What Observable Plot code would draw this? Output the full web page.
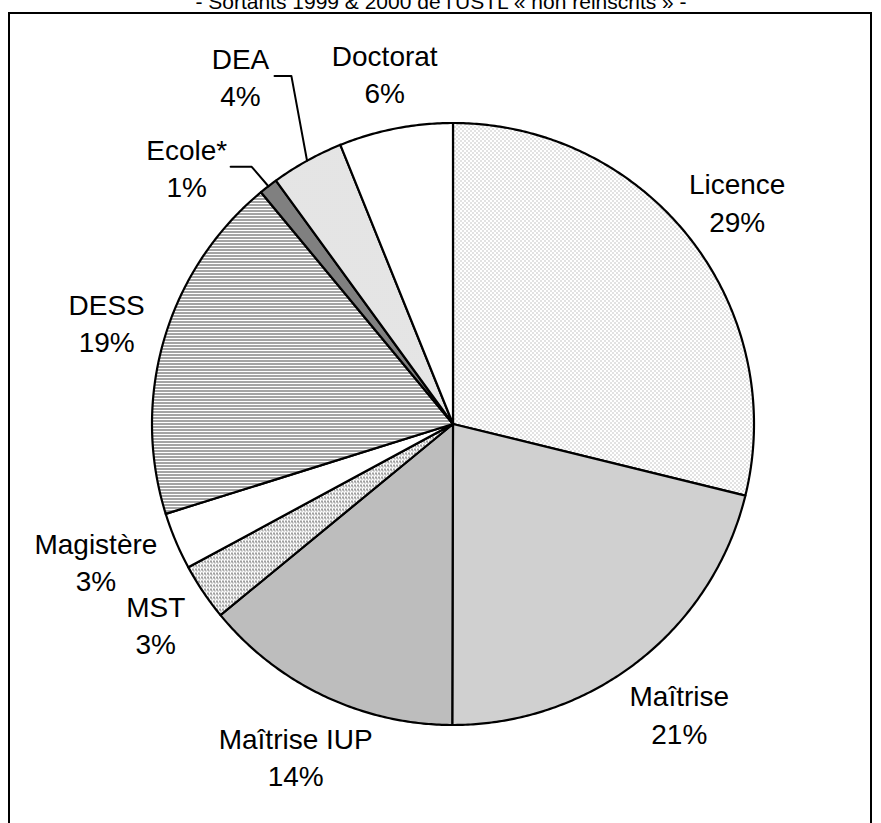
<!DOCTYPE html>
<html><head><meta charset="utf-8">
<script src="https://cdn.jsdelivr.net/npm/d3@7"></script>
<script src="https://cdn.jsdelivr.net/npm/@observablehq/plot@0.6"></script>
<style>
body{margin:0;background:#fff;}
#wrap{position:relative;width:881px;height:823px;overflow:hidden;}
#chart{position:absolute;left:0;top:0;}
#box{position:absolute;left:8px;top:12px;width:860px;height:900px;border:2px solid #000;pointer-events:none;}
#title{position:absolute;left:0;top:-9px;width:882px;text-align:center;font:21px/21px "Liberation Sans",Arial,sans-serif;color:#000;white-space:nowrap;}
</style></head>
<body><div id="wrap"><div id="chart"></div><div id="box"></div><div id="title">- Sortants 1999 &amp; 2000 de l'USTL « non réinscrits » -</div></div>
<script>
// Data (clockwise from 12 o'clock)
const categories = ["Licence","Maîtrise","Maîtrise IUP","MST","Magistère","DESS","Ecole*","DEA","Doctorat"];
const shares = [28.8, 21.2, 14.0, 3.05, 3.07, 18.8, 1.0, 3.9, 6.1];

// Styles
const patternIds = ["pLic","pMai","pIUP","pMST","pWhite","pDESS","pEcole","pDEA","pWhite"];
// Label layout (radius factor, optional angle override in degrees)
const labelRadius = [1.2, 1.22, 1.22, 1.19, 1.27, 1.2, 1.23, 1.355, 1.19];
const labelAngle = [null, null, null, null, 249.1, null, 314, 328.6, null];
const leaderCats = ["Ecole*","DEA"];
const leaderOffsets = [[0.146, 0.216],[0.113, 0.169]];

const W = 881, H = 823, cx = 452.5, cy = 423.5, R = 301;
const total = d3.sum(shares);
let cum = 0;
const slices = categories.map((c, i) => {
  const a0 = cum / total * 2 * Math.PI; cum += shares[i];
  const a1 = cum / total * 2 * Math.PI;
  const pts = [{x: 0, y: 0}];
  const n = Math.max(2, Math.ceil((a1 - a0) / (Math.PI / 360)));
  for (let k = 0; k <= n; k++) {
    const a = a0 + (a1 - a0) * k / n;
    pts.push({x: Math.sin(a), y: Math.cos(a)});
  }
  pts.push({x: 0, y: 0});
  const mid = (a0 + a1) / 2;
  const la = labelAngle[i] != null ? labelAngle[i] * Math.PI / 180 : mid;
  const lr = labelRadius[i];
  return {cat: c, pts, mid, lx: lr * Math.sin(la), ly: lr * Math.cos(la),
          text: c + "\n" + Math.round(shares[i] / total * 100) + "%"};
});

const leaders = leaderCats.map((c, j) => {
  const s = slices.find(d => d.cat === c);
  return [
    {x: s.lx + leaderOffsets[j][0], y: s.ly},
    {x: s.lx + leaderOffsets[j][1], y: s.ly},
    {x: Math.sin(s.mid), y: Math.cos(s.mid)}
  ];
});

const plot = Plot.plot({
  width: W, height: H,
  marginTop: 0, marginRight: 0, marginBottom: 0, marginLeft: 0,
  x: {domain: [-cx / R, (W - cx) / R], axis: null},
  y: {domain: [-(H - cy) / R, cy / R], axis: null},
  style: {background: "transparent", overflow: "visible"},
  marks: [
    ...slices.map((s, i) => Plot.line(s.pts, {x: "x", y: "y", fill: `url(#${patternIds[i]})`,
      stroke: "black", strokeWidth: 2.2, strokeLinejoin: "round"})),
    ...leaders.map(l => Plot.line(l, {x: "x", y: "y", stroke: "black", strokeWidth: 2})),
    Plot.text(slices, {x: "lx", y: "ly", text: "text", fontSize: 28, lineHeight: 1.33,
      fontFamily: "'Liberation Sans', Arial, sans-serif", fill: "black"})
  ]
});

const defs = `<defs>
<pattern id="pWhite" patternUnits="userSpaceOnUse" width="4" height="4"><rect width="4" height="4" fill="#fff"/></pattern>
<pattern id="pLic" patternUnits="userSpaceOnUse" width="4" height="4" shape-rendering="crispEdges"><rect width="4" height="4" fill="#fff"/><rect x="0" y="0" width="1" height="1" fill="#8c8c8c"/><rect x="2" y="2" width="1" height="1" fill="#8c8c8c"/></pattern>
<pattern id="pMai" patternUnits="userSpaceOnUse" width="2" height="2" shape-rendering="crispEdges"><rect width="2" height="2" fill="#fff"/><rect x="0" y="0" width="1" height="1" fill="#a0a0a0"/><rect x="1" y="1" width="1" height="1" fill="#a0a0a0"/></pattern>
<pattern id="pIUP" patternUnits="userSpaceOnUse" width="2" height="2" shape-rendering="crispEdges"><rect width="2" height="2" fill="#d6d6d6"/><rect x="0" y="0" width="1" height="1" fill="#a4a4a4"/><rect x="1" y="1" width="1" height="1" fill="#a4a4a4"/></pattern>
<pattern id="pMST" patternUnits="userSpaceOnUse" width="3" height="4" shape-rendering="crispEdges"><rect width="3" height="4" fill="#fff"/><rect x="0" y="0" width="1" height="2" fill="#404040"/><rect x="1" y="2" width="1" height="1" fill="#707070"/></pattern>
<pattern id="pDESS" patternUnits="userSpaceOnUse" width="4" height="3" shape-rendering="crispEdges"><rect width="4" height="3" fill="#fff"/><rect x="0" y="0" width="4" height="1" fill="#4a4a4a"/></pattern>
<pattern id="pEcole" patternUnits="userSpaceOnUse" width="4" height="4"><rect width="4" height="4" fill="#808080"/></pattern>
<pattern id="pDEA" patternUnits="userSpaceOnUse" width="2" height="2" shape-rendering="crispEdges"><rect width="2" height="2" fill="#fff"/><rect x="0" y="0" width="1" height="1" fill="#b4b4b4"/><rect x="1" y="1" width="1" height="1" fill="#e0e0e0"/></pattern>
</defs>`;
plot.insertAdjacentHTML("afterbegin", defs);
document.getElementById("chart").appendChild(plot);
</script>
</body></html>
